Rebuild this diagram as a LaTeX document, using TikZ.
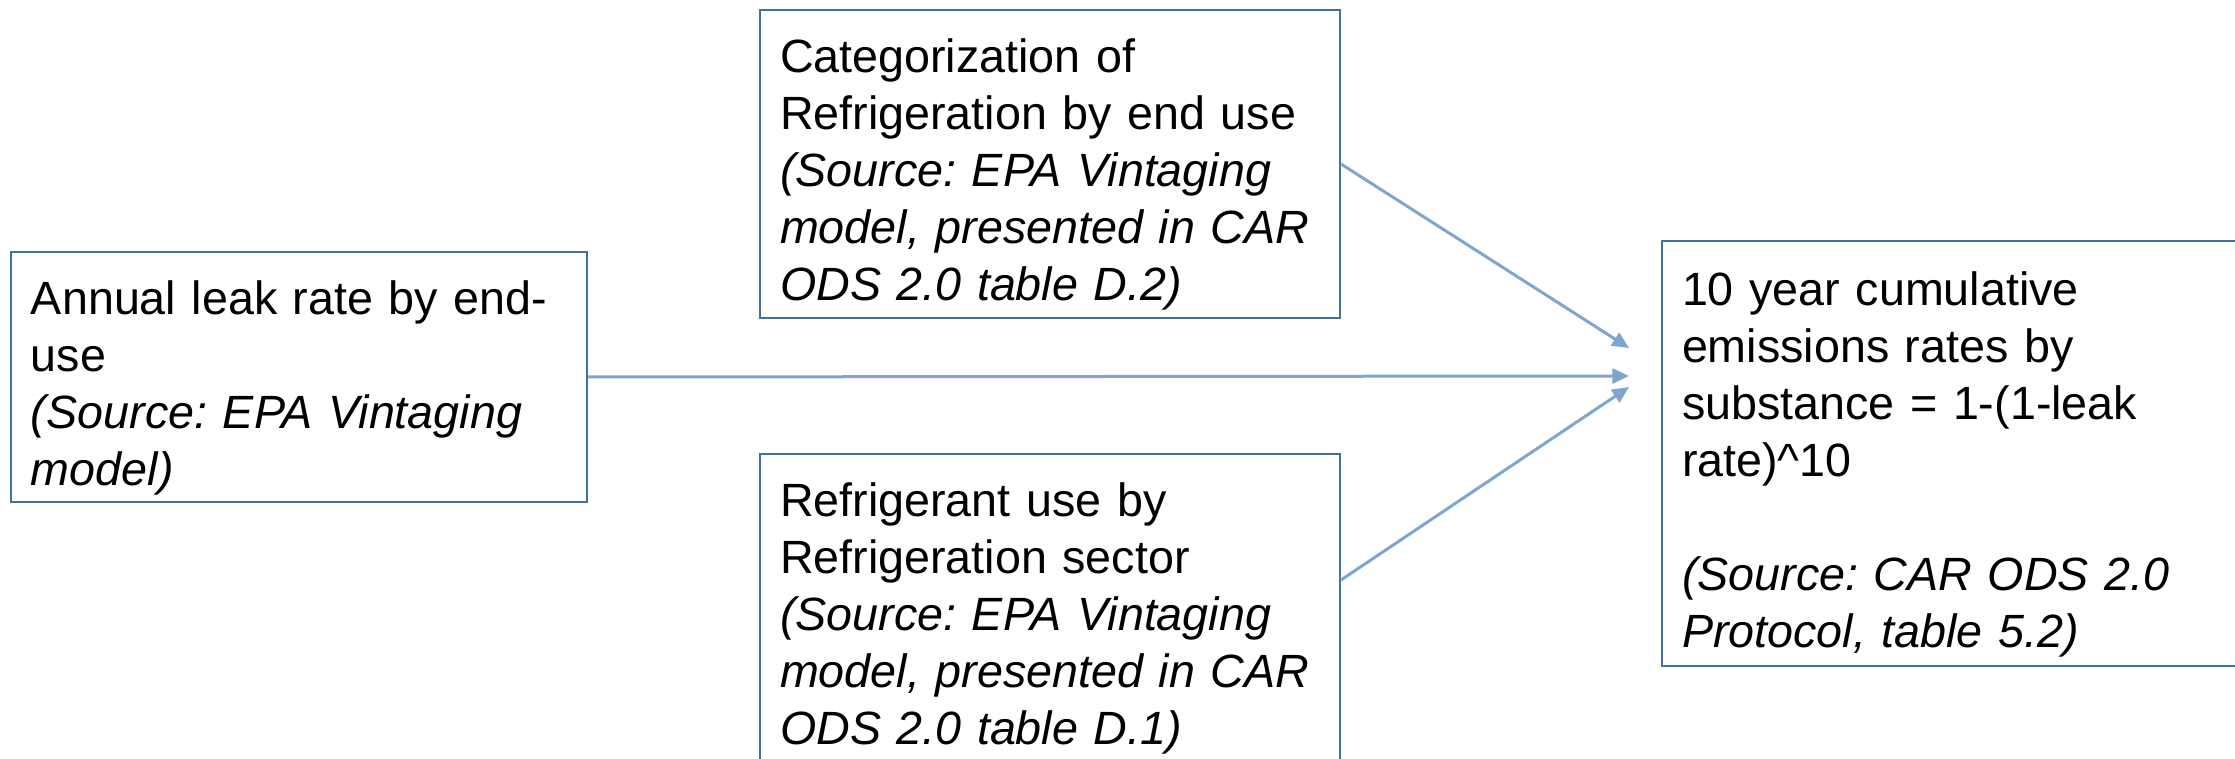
\documentclass[tikz,border=0pt]{standalone}
\usepackage{fontspec}
\setmainfont{Liberation Sans}
\frenchspacing
\usetikzlibrary{arrows.meta}
\definecolor{boxblue}{HTML}{41719C}
\definecolor{flowblue}{HTML}{7EA6CE}
\begin{document}
\begin{tikzpicture}[x=1pt,y=1pt]

\tikzset{Box/.style  = {draw=boxblue, line width=.6pt, align=left, inner xsep=6pt, inner ysep=0pt,
                        font=\fontsize{14}{17.1}\selectfont,
                        execute at begin node={\rule{0pt}{16.5pt}}},
         Flow/.style = {draw=flowblue, line width=.9pt, -{Triangle[length=5pt,width=4.5pt]}}}

\useasboundingbox (0,0) rectangle (670.5,227.7);

\node[Box, text width=160.8pt, minimum height=75pt]   (leak) at (89.7,114.6)
  {Annual leak rate by end-\\use\\\itshape (Source: EPA Vintaging\\model)};
\node[Box, text width=162pt, minimum height=92.4pt]   (cat)  at (315,178.5)
  {Categorization of\\Refrigeration by end use\\\itshape (Source: EPA Vintaging\\model, presented in CAR\\ODS 2.0 table D.2)};
\node[Box, text width=162pt, minimum height=92.4pt]   (use)  at (315,45.3)
  {Refrigerant use by\\Refrigeration sector\\\itshape (Source: EPA Vintaging\\model, presented in CAR\\ODS 2.0 table D.1)};
\node[Box, text width=168pt, minimum height=127.5pt]  (cum)  at (588.6,91.65)
  {10 year cumulative\\emissions rates by\\substance = 1-(1-leak\\rate)\textasciicircum10\\~\\\itshape (Source: CAR ODS 2.0\\Protocol, table 5.2)};

\coordinate (t1) at (488.7,123.3);
\coordinate (t2) at (488.7,114.9);
\coordinate (t3) at (488.7,111.6);

\draw[Flow] (cat.east) -- (t1);
\draw[Flow] (leak.east) -- (t2);
\draw[Flow] ([yshift=8.4pt]use.east) -- (t3);

\end{tikzpicture}
\end{document}
